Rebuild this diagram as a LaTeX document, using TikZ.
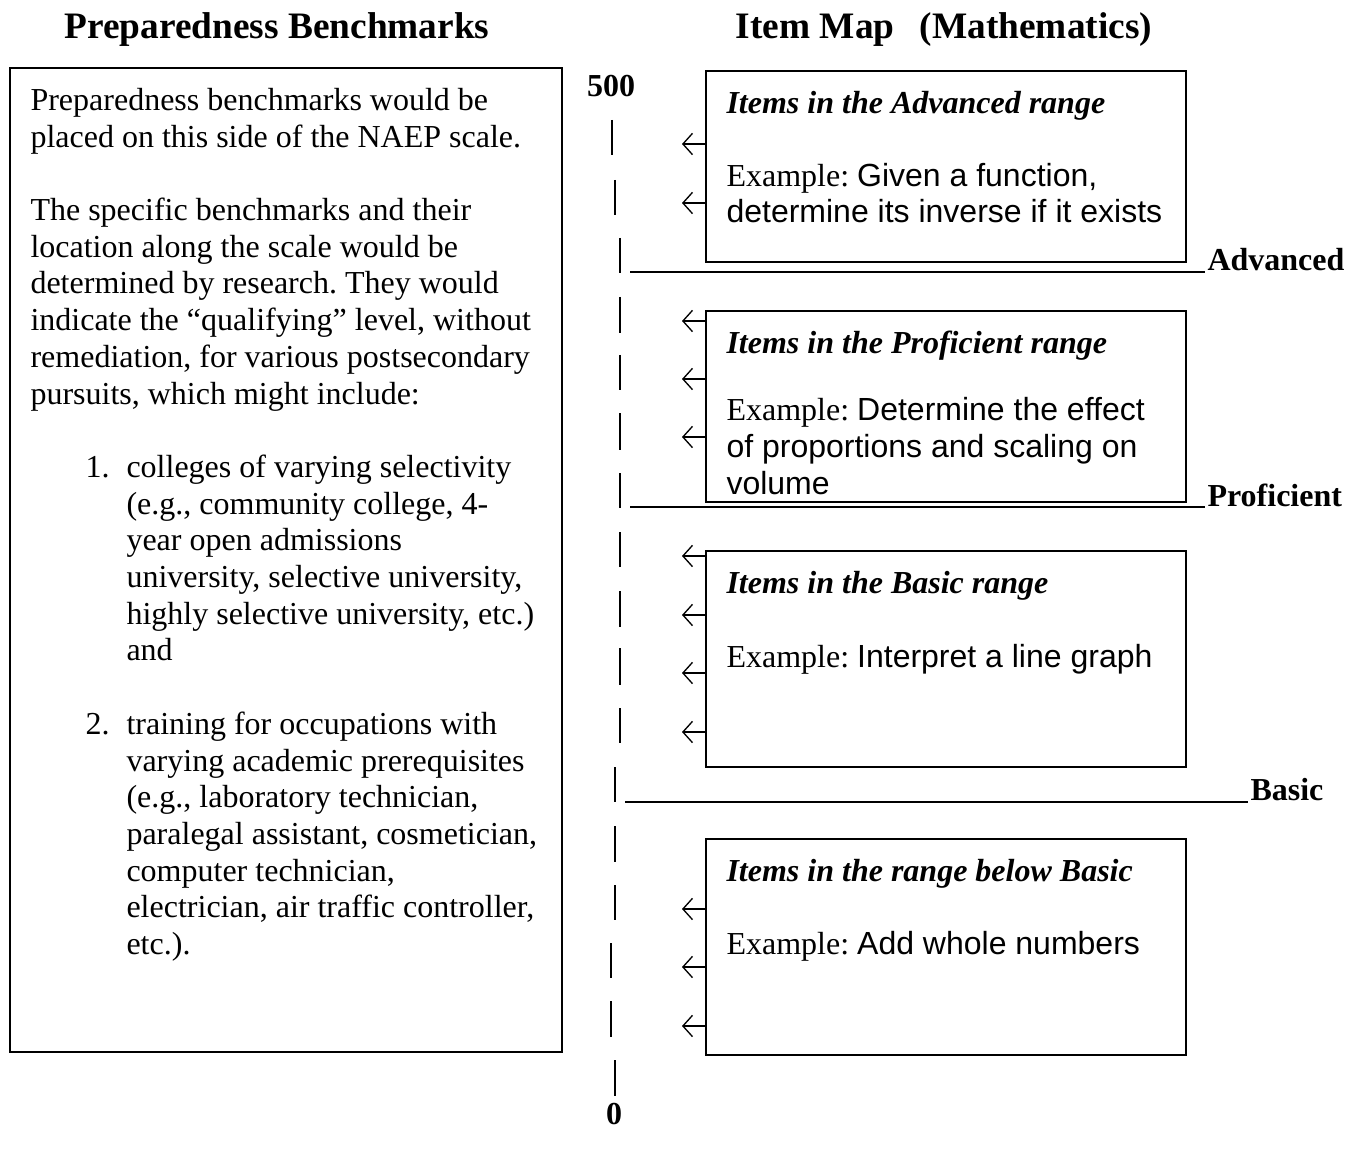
\documentclass[tikz,border=0pt]{standalone}
\usepackage{fontspec}
\setmainfont{Liberation Serif}
\newfontfamily\arialf{Liberation Sans}
\usetikzlibrary{arrows.meta,fit}
\frenchspacing
\begin{document}
\begin{tikzpicture}[x=0.375pt,y=-0.375pt,
  txt/.style={anchor=base west,inner sep=0pt,yshift=-0.9pt,font=\fontsize{12pt}{14pt}\selectfont},
  ttl/.style={anchor=base,inner sep=0pt,yshift=-1.1pt,font=\fontsize{14pt}{16pt}\selectfont\bfseries},
  lvl/.style={anchor=base west,inner sep=0pt,yshift=-0.9pt,font=\fontsize{12pt}{14pt}\selectfont\bfseries},
  num/.style={anchor=base,inner sep=0pt,yshift=-0.9pt,font=\fontsize{12pt}{14pt}\selectfont\bfseries},
  hd/.style={txt,font=\fontsize{12pt}{14pt}\selectfont\bfseries\itshape},
  box/.style={draw,line width=0.75pt,inner sep=0pt},
  tick/.style={line width=0.6pt},
  level/.style={line width=1pt},
  arr/.style={line width=0.5pt,-{Straight Barb[length=3.6pt,width=8pt]}}]
\useasboundingbox (0,0) rectangle (1356,1151);

% titles
\node[ttl] (t1) at (277,36) {Preparedness Benchmarks};
\node[ttl] (t2) at (944,36) {Item Map\hspace{9.5pt}(Mathematics)};

% left box
\coordinate (l1) at (10,68);
\coordinate (l2) at (562,1052);
\node[box,fit=(l1)(l2)] (lbox) {};
\node[txt] (p1) at (30,108) {Preparedness benchmarks would be};
\node[txt] (p2) at (30,144.7) {placed on this side of the NAEP scale.};
\node[txt] (p3) at (30,218.1) {The specific benchmarks and their};
\node[txt] (p4) at (30,254.8) {location along the scale would be};
\node[txt] (p5) at (30,291.5) {determined by research. They would};
\node[txt] (p6) at (30,328.2) {indicate the “qualifying” level, without};
\node[txt] (p7) at (30,364.9) {remediation, for various postsecondary};
\node[txt] (p8) at (30,401.6) {pursuits, which might include:};
\node[txt] (n1) at (85,475) {1.};
\node[txt] (q1) at (126,475) {colleges of varying selectivity};
\node[txt] (q2) at (126,511.7) {(e.g., community college, 4-};
\node[txt] (q3) at (126,548.4) {year open admissions};
\node[txt] (q4) at (126,585.1) {university, selective university,};
\node[txt] (q5) at (126,621.8) {highly selective university, etc.)};
\node[txt] (q6) at (126,658.5) {and};
\node[txt] (n2) at (85,731.9) {2.};
\node[txt] (r1) at (126,731.9) {training for occupations with};
\node[txt] (r2) at (126,768.6) {varying academic prerequisites};
\node[txt] (r3) at (126,805.3) {(e.g., laboratory technician,};
\node[txt] (r4) at (126,842) {paralegal assistant, cosmetician,};
\node[txt] (r5) at (126,878.7) {computer technician,};
\node[txt] (r6) at (126,915.4) {electrician, air traffic controller,};
\node[txt] (r7) at (126,952.1) {etc.).};

% scale
\node[num] (top) at (611,94) {500};
\node[num] (bot) at (614,1122) {0};
\foreach \x/\a/\b in {612/120/155,615/180/215,620/238/273,620/297/333,620/355/390,620/413/450,620/473/508,620/532/567,620/591/627,620/648/685,620/708/743,615/767/802,615/826/862,615/885/920,611/943/978,611/1001/1037,615/1060/1096}
  \draw[tick] (\x,\a) -- (\x,\b);

% level lines
\coordinate (a1) at (630,272); \coordinate (a2) at (1205,272);
\coordinate (b1) at (630,507); \coordinate (b2) at (1205,507);
\coordinate (c1) at (625,802); \coordinate (c2) at (1248,802);
\draw[level] (a1) -- (a2);
\draw[level] (b1) -- (b2);
\draw[level] (c1) -- (c2);
\node[lvl] (la) at (1207,268) {Advanced};
\node[lvl] (lb) at (1207,504) {Proficient};
\node[lvl] (lc) at (1250,798) {Basic};

% item boxes
\coordinate (A1) at (706,71);  \coordinate (A2) at (1186,262);
\coordinate (B1) at (706,311); \coordinate (B2) at (1186,502);
\coordinate (C1) at (706,551); \coordinate (C2) at (1186,767);
\coordinate (D1) at (706,839); \coordinate (D2) at (1186,1055);
\node[box,fit=(A1)(A2)] (adv) {};
\node[box,fit=(B1)(B2)] (prof) {};
\node[box,fit=(C1)(C2)] (bas) {};
\node[box,fit=(D1)(D2)] (below) {};

\node[hd] (ah) at (726,111) {Items in the Advanced range};
\node[txt] (ae) at (726,184) {Example: {\arialf Given a function,}};
\node[txt] (ae2) at (726,220) {\arialf determine its inverse if it exists};

\node[hd] (bh) at (726,351) {Items in the Proficient range};
\node[txt] (be) at (726,418) {Example: {\arialf Determine the effect}};
\node[txt] (be2) at (726,455) {\arialf of proportions and scaling on};
\node[txt] (be3) at (726,492) {\arialf volume};

\node[hd] (ch) at (726,591) {Items in the Basic range};
\node[txt] (ce) at (726,665) {Example: {\arialf Interpret a line graph}};

\node[hd] (dh) at (726,879) {Items in the range below Basic};
\node[txt] (de) at (726,952) {Example: {\arialf Add whole numbers}};

% arrows
\foreach \y in {144,203} \draw[arr] (adv.west |- 0,\y) -- ++(-23,0);
\foreach \y in {321,379,437} \draw[arr] (prof.west |- 0,\y) -- ++(-23,0);
\foreach \y in {556,615,673,732} \draw[arr] (bas.west |- 0,\y) -- ++(-23,0);
\foreach \y in {909,967,1026} \draw[arr] (below.west |- 0,\y) -- ++(-23,0);
\end{tikzpicture}
\end{document}
